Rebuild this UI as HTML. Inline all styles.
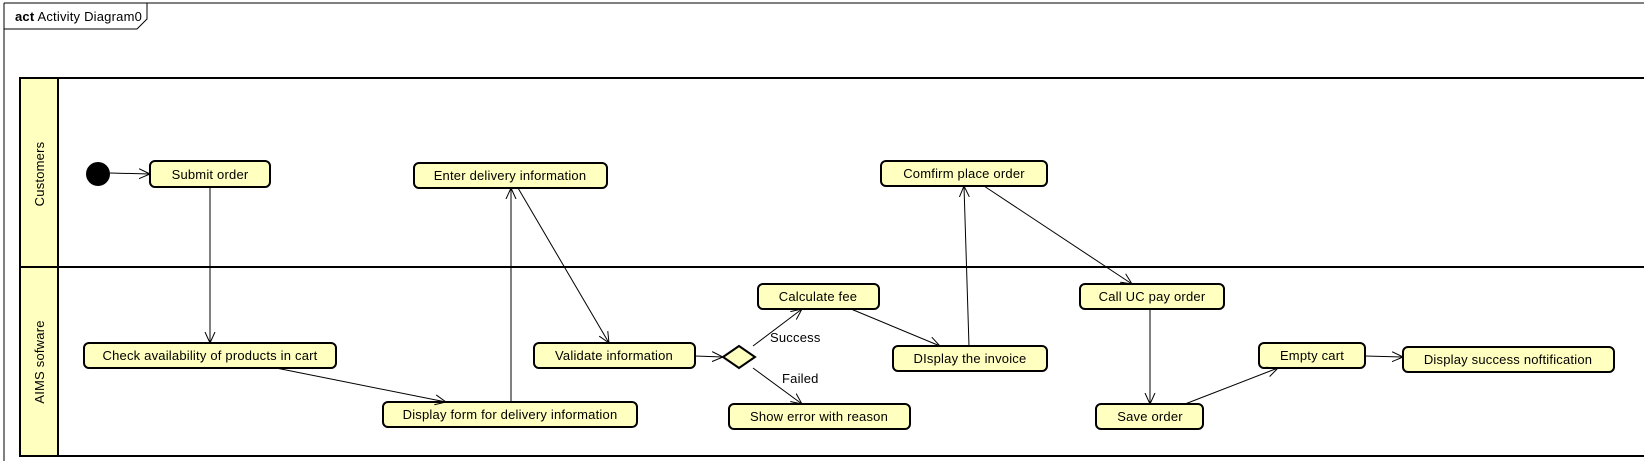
<!DOCTYPE html>
<html><head><meta charset="utf-8"><style>
html,body{margin:0;padding:0;background:#fff;}
svg{display:block;}
text{font-family:"Liberation Sans",sans-serif;font-size:13px;letter-spacing:0.2px;fill:#000;}
</style></head><body>
<svg width="1644" height="461" viewBox="0 0 1644 461" xmlns="http://www.w3.org/2000/svg">
<defs>
<marker id="a" markerWidth="12" markerHeight="12" refX="11" refY="6" orient="auto" markerUnits="userSpaceOnUse">
<path d="M0,1 L11,6 L0,11" fill="none" stroke="#000" stroke-width="1"/>
</marker>
</defs>
<path d="M4,3 H1644 M4,3 V461" stroke="#000" fill="none"/>
<path d="M4,29 H137 L147,19 V3" stroke="#000" fill="none"/>
<text x="15" y="21"><tspan font-weight="bold">act</tspan> Activity Diagram0</text>
<rect x="20" y="78" width="38" height="378" fill="#ffffc0" stroke="#000" stroke-width="2"/>
<path d="M20,78 H1644 M20,267 H1644 M20,456 H1644 M58,78 V456" stroke="#000" stroke-width="2" fill="none"/>
<text transform="translate(44,174) rotate(-90)" text-anchor="middle">Customers</text>
<text transform="translate(44,362) rotate(-90)" text-anchor="middle">AIMS sofware</text>
<circle cx="98" cy="174" r="12" fill="#000"/>
<g fill="#ffffc0" stroke="#000" stroke-width="2">
<rect x="150" y="161" width="120" height="26" rx="5"/>
<rect x="84" y="343" width="252" height="25" rx="5"/>
<rect x="414" y="163" width="193" height="25" rx="5"/>
<rect x="383" y="402" width="254" height="25" rx="5"/>
<rect x="534" y="343" width="161" height="25" rx="5"/>
<polygon points="723,357 739,346 755,357 739,368"/>
<rect x="758" y="284" width="121" height="25" rx="5"/>
<rect x="729" y="404" width="181" height="25" rx="5"/>
<rect x="893" y="346" width="154" height="25" rx="5"/>
<rect x="881" y="161" width="166" height="25" rx="5"/>
<rect x="1080" y="284" width="144" height="25" rx="5"/>
<rect x="1096" y="404" width="107" height="25" rx="5"/>
<rect x="1259" y="343" width="106" height="25" rx="5"/>
<rect x="1403" y="347" width="211" height="25" rx="5"/>
</g>
<g stroke="#000" stroke-width="1" fill="none" marker-end="url(#a)">
<path d="M110,173 L150,174"/>
<path d="M210,187 V343"/>
<path d="M276,368 L446,402"/>
<path d="M511,402 V188"/>
<path d="M518,188 L609,343"/>
<path d="M695,356 L723,357"/>
<path d="M753,346 L802,309"/>
<path d="M753,368 L802,404"/>
<path d="M851,309 L940,346"/>
<path d="M969,346 L964,186"/>
<path d="M984,186 L1132,284"/>
<path d="M1150,309 V404"/>
<path d="M1185,404 L1278,368"/>
<path d="M1365,356 L1403,357"/>
</g>
<g text-anchor="middle">
<text x="210" y="179">Submit order</text>
<text x="210" y="360">Check availability of products in cart</text>
<text x="510" y="180">Enter delivery information</text>
<text x="510" y="419">Display form for delivery information</text>
<text x="614" y="360">Validate information</text>
<text x="818" y="301">Calculate fee</text>
<text x="819" y="421">Show error with reason</text>
<text x="970" y="363">DIsplay the invoice</text>
<text x="964" y="178">Comfirm place order</text>
<text x="1152" y="301">Call UC pay order</text>
<text x="1150" y="421">Save order</text>
<text x="1312" y="360">Empty cart</text>
<text x="1508" y="364">Display success noftification</text>
</g>
<text x="770" y="342">Success</text>
<text x="782" y="383">Failed</text>
</svg>
</body></html>
